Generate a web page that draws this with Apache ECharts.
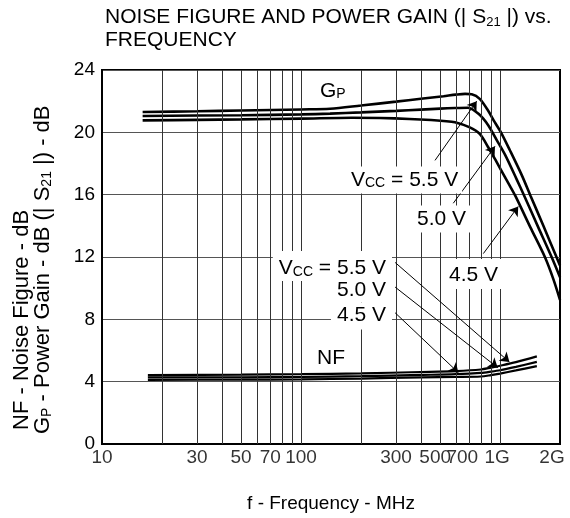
<!DOCTYPE html>
<html>
<head>
<meta charset="utf-8">
<script src="https://cdn.jsdelivr.net/npm/echarts@6/dist/echarts.min.js"></script>
<style>
  html, body { margin: 0; padding: 0; background: #fff; }
  #chart { width: 570px; height: 518px; }
</style>
</head>
<body>
<div id="chart"></div>
<script>
// frequency axis (MHz), log scale
const tickVals = [10, 30, 50, 70, 100, 300, 500, 700, 1000, 2000];
const tickLabels = ['10', '30', '50', '70', '100', '300', '500', '700', '1G', '2G'];
const gridFreqs = [20, 30, 40, 50, 60, 70, 80, 90, 100, 200, 300, 400, 500, 600, 700, 800, 900, 1000];
const yTicks = [0, 4, 8, 12, 16, 20, 24];

// power gain Gp (dB)
const gpFreq55 = [16, 30, 50, 100, 140, 200, 300, 400, 520, 600, 667, 720, 790, 870, 940, 1010, 1120, 1280, 1420, 1650, 1920, 2000];
const gp55 = [21.3, 21.35, 21.4, 21.47, 21.51, 21.72, 21.97, 22.15, 22.32, 22.42, 22.47, 22.44, 22.15, 21.4, 20.65, 20.0, 18.85, 17.3, 15.95, 14.0, 12.0, 11.45];
const gpFreq50 = [16, 50, 100, 140, 200, 300, 400, 500, 593, 690, 782, 873, 962, 1060, 1210, 1320, 1550, 1815, 2000];
const gp50 = [21.05, 21.1, 21.15, 21.2, 21.28, 21.38, 21.46, 21.52, 21.56, 21.58, 21.17, 20.44, 19.5, 18.55, 17.0, 15.95, 13.95, 12.0, 10.7];
const gpFreq45 = [16, 30, 50, 100, 180, 250, 350, 450, 520, 593, 700, 790, 870, 960, 1100, 1190, 1420, 1679, 1850, 2000];
const gp45 = [20.77, 20.8, 20.83, 20.88, 20.94, 20.92, 20.86, 20.79, 20.73, 20.65, 20.33, 19.9, 19.06, 18.1, 16.74, 15.95, 13.9, 12.0, 10.6, 9.25];

// noise figure NF (dB)
const nfFreq = [17, 50, 100, 200, 400, 600, 800, 900, 1000, 1200, 1530];
const nf55 = [4.42, 4.45, 4.48, 4.53, 4.62, 4.68, 4.78, 4.9, 5.02, 5.25, 5.62];
const nf50 = [4.27, 4.28, 4.3, 4.35, 4.43, 4.48, 4.56, 4.64, 4.73, 4.95, 5.27];
const nf45 = [4.12, 4.13, 4.15, 4.2, 4.28, 4.3, 4.33, 4.42, 4.52, 4.72, 5.0];

const FONT = '"Liberation Sans", Arial, Helvetica, sans-serif';

const pairs = (xs, ys) => xs.map((x, i) => [x, ys[i]]);

// arrows from the Vcc labels to the curves, [start, tip] in data coords
const arrows = [
  [[471, 18.2], [763, 22.0]],
  [[582, 15.45], [943, 19.1]],
  [[824, 12.22], [1234, 15.24]],
  [[297, 11.65], [1114, 5.26]],
  [[297, 10.07], [973, 4.9]],
  [[297, 8.42], [617, 4.58]]
];

const chart = echarts.init(document.getElementById('chart'));

const curve = (name, xs, ys, w) => ({
  name: name,
  type: 'line',
  data: pairs(xs, ys),
  showSymbol: false,
  smooth: 0.3,
  z: 3,
  lineStyle: { color: '#000', width: w },
  itemStyle: { color: '#000' }
});

const labelShift = { '500': -5, '700': -7, '1G': -3, '2G': -8 };

const textEl = (x, y, text, align, size, extra) => Object.assign({
  type: 'text',
  x: x,
  y: y,
  z: 100,
  style: {
    text: text,
    fontSize: size,
    fontFamily: FONT,
    fill: '#000',
    align: align,
    verticalAlign: 'middle',
    rich: {
      s: { fontSize: Math.round(size * 0.65), fontFamily: FONT, verticalAlign: 'bottom' }
    }
  }
}, extra || {});

const boxed = (x, y, text, align, pad) => {
  const el = textEl(x, y, text, align, 21);
  el.style.backgroundColor = '#fff';
  el.style.padding = pad;
  return el;
};

const option = {
  animation: false,
  backgroundColor: '#fff',
  title: {
    text: 'NOISE FIGURE AND POWER GAIN (| S{sub|21} |) vs.\nFREQUENCY',
    left: 105,
    top: 6,
    padding: 0,
    textStyle: {
      fontSize: 21,
      fontWeight: 'normal',
      fontFamily: FONT,
      color: '#000',
      lineHeight: 23,
      rich: {
        sub: { fontSize: 13, fontFamily: FONT, color: '#000', verticalAlign: 'bottom', lineHeight: 23 }
      }
    }
  },
  grid: {
    left: 102,
    top: 70,
    width: 458,
    height: 379,
    show: true,
    borderColor: '#000',
    borderWidth: 2,
    backgroundColor: 'transparent'
  },
  xAxis: {
    type: 'log',
    logBase: 10,
    min: 10,
    max: 2000,
    name: 'f - Frequency - MHz',
    nameLocation: 'middle',
    nameGap: 50,
    nameTextStyle: { fontSize: 19, fontFamily: FONT, color: '#000' },
    axisLine: { show: true, lineStyle: { color: '#000', width: 2 } },
    axisTick: { show: false },
    axisLabel: { show: false },
    splitLine: { show: false },
    minorSplitLine: { show: false }
  },
  yAxis: {
    type: 'value',
    min: 0,
    max: 24,
    interval: 4,
    axisLine: { show: true, lineStyle: { color: '#000', width: 2 } },
    axisTick: { show: false },
    axisLabel: {
      fontSize: 19,
      fontFamily: FONT,
      color: '#000',
      margin: 7,
      formatter: v => (yTicks.indexOf(v) >= 0 ? String(v) : '')
    },
    splitLine: { show: true, lineStyle: { color: '#555', width: 1 } }
  },
  series: [
    {
      name: 'ticks',
      type: 'scatter',
      z: 1,
      clip: false,
      silent: true,
      symbolSize: 1,
      itemStyle: { color: 'transparent' },
      data: tickVals.map((v, i) => ({
        value: [v, 0],
        label: { offset: [labelShift[tickLabels[i]] || 0, 0] }
      })),
      label: {
        show: true,
        position: 'bottom',
        distance: 4,
        fontSize: 19,
        fontFamily: FONT,
        color: '#000',
        formatter: p => tickLabels[p.dataIndex]
      },
      markLine: {
        silent: true,
        symbol: 'none',
        label: { show: false },
        lineStyle: { color: '#333', width: 1, type: 'solid' },
        data: gridFreqs.map(v => ({ xAxis: v }))
      }
    },
    Object.assign(curve('Gp 5.5 V', gpFreq55, gp55, 2.6), {
      markLine: {
        silent: true,
        symbol: ['none', 'arrow'],
        symbolSize: 9,
        label: { show: false },
        lineStyle: { color: '#000', width: 1, type: 'solid' },
        data: arrows.map(a => [{ coord: a[0] }, { coord: a[1] }])
      }
    }),
    curve('Gp 5.0 V', gpFreq50, gp50, 2.6),
    curve('Gp 4.5 V', gpFreq45, gp45, 2.6),
    curve('NF 5.5 V', nfFreq, nf55, 2.2),
    curve('NF 5.0 V', nfFreq, nf50, 2.2),
    curve('NF 4.5 V', nfFreq, nf45, 2.2)
  ],
  graphic: [
    // y axis title, two lines read bottom to top
    textEl(22, 430, 'NF - Noise Figure - dB', 'left', 22, { rotation: Math.PI / 2 }),
    textEl(43, 434, 'G{s|P} - Power Gain - dB (| S{s|21} |) - dB', 'left', 22, { rotation: Math.PI / 2 }),
    // curve annotations
    textEl(320, 91, 'G{s|P}', 'left', 21),
    textEl(317, 358, 'NF', 'left', 21),
    boxed(347, 180, 'V{s|CC} = 5.5 V', 'left', [3, 4]),
    boxed(413, 219, '5.0 V', 'left', [3, 4]),
    boxed(445, 274, '4.5 V', 'left', [6, 4, 3, 4]),
    boxed(392, 266, 'V{s|CC} = 5.5 V', 'right', [7, 6, 2, 6]),
    boxed(392, 290, '5.0 V', 'right', [2, 6]),
    boxed(392, 316, '4.5 V', 'right', [2, 6, 4, 6])
  ]
};

chart.setOption(option);
</script>
</body>
</html>
